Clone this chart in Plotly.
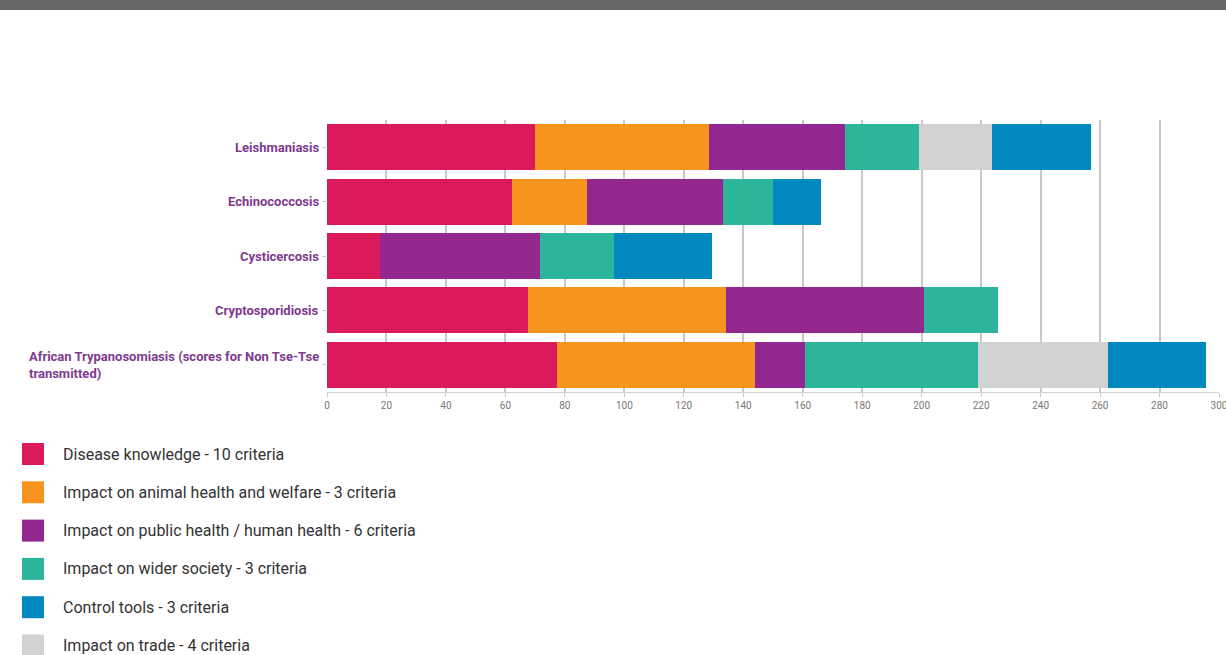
import plotly.graph_objects as go

diseases = ["Leishmaniasis", "Echinococcosis", "Cysticercosis", "Cryptosporidiosis",
            "African Trypanosomiasis (scores for Non Tse-Tse<br>transmitted)"]

series_names = [
    "Disease knowledge - 10 criteria",
    "Impact on animal health and welfare - 3 criteria",
    "Impact on public health / human health - 6 criteria",
    "Impact on wider society - 3 criteria",
    "Control tools - 3 criteria",
    "Impact on trade - 4 criteria",
]
series_colors = ["#DA1A5A", "#F7941E", "#92278F", "#2DB59B", "#0088BF", "#D2D2D2"]

disease_knowledge = [70.0, 62.2, 17.8, 67.5, 77.3]
animal_health = [58.6, 25.1, 0.0, 66.8, 66.8]
public_health = [45.5, 45.8, 53.8, 66.4, 16.5]
wider_society = [24.9, 16.8, 24.9, 24.9, 58.4]
trade = [24.8, 0.0, 0.0, 0.0, 43.7]
control_tools = [33.2, 16.2, 33.1, 0.0, 33.0]

# stacking order left to right: knowledge, animal, public, society, trade, control
stack = [
    (0, disease_knowledge),
    (1, animal_health),
    (2, public_health),
    (3, wider_society),
    (5, trade),
    (4, control_tools),
]

x_ticks = list(range(0, 301, 20))

FONT = "Roboto, Open Sans, sans-serif"
W, H = 1226, 655
ML, MR, MT, MB = 327, 7, 120, 263
PW, PH = W - ML - MR, H - MT - MB

fig = go.Figure()
for idx, vals in stack:
    fig.add_trace(go.Bar(
        y=diseases, x=vals, orientation="h", name=series_names[idx],
        marker=dict(color=series_colors[idx], line=dict(width=0)),
        showlegend=False,
    ))

# dark band along the top of the image (paper coords)
shapes = [dict(type="rect", xref="paper", yref="paper", x0=-ML / PW, x1=(W - ML) / PW,
               y0=(PH + MT - 10) / PH, y1=(PH + MT) / PH,
               fillcolor="#666666", line=dict(width=0), layer="above")]

annotations = []
for d in diseases:
    annotations.append(dict(
        x=0, xref="paper", y=d, yref="y", xanchor="right", yanchor="middle",
        xshift=-6, text=d, showarrow=False, align="left",
        font=dict(family=FONT, size=13, color="#7E3A8E", weight="bold"),
    ))

# legend drawn as squares + labels
leg_y0 = 454
leg_step = 38.3
for i, (name, col) in enumerate(zip(series_names, series_colors)):
    cy = leg_y0 + i * leg_step
    shapes.append(dict(
        type="rect", xref="paper", yref="paper",
        x0=(22 - ML) / PW, x1=(44 - ML) / PW,
        y0=(MT + PH - (cy - 11)) / PH, y1=(MT + PH - (cy + 11)) / PH,
        fillcolor=col, line=dict(width=0),
    ))
    annotations.append(dict(
        x=(61 - ML) / PW, xref="paper", y=(MT + PH - cy) / PH, yref="paper",
        xanchor="left", yanchor="middle", text=name, showarrow=False,
        font=dict(family=FONT, size=16, color="#333333"),
    ))

fig.update_layout(
    width=W, height=H,
    margin=dict(l=ML, r=MR, t=MT, b=MB, autoexpand=False),
    barmode="stack", bargap=0.155,
    plot_bgcolor="white", paper_bgcolor="white",
    xaxis=dict(range=[0, 300], tickvals=x_ticks, showgrid=True, gridcolor="#C8C8C8",
               gridwidth=1.5, zeroline=False, showline=True, linecolor="#D0D0D0",
               ticks="outside", ticklen=4, tickcolor="#C8C8C8",
               ticklabeloverflow="allow", automargin=False,
               tickfont=dict(family=FONT, size=10, color="#777777")),
    yaxis=dict(autorange="reversed", showticklabels=False, showgrid=False,
               ticks="outside", ticklen=4, tickcolor="#CCCCCC", showline=False,
               zeroline=False, automargin=False),
    shapes=shapes,
    annotations=annotations,
)

fig.write_html("out.html", config={"displayModeBar": False},
               post_script="document.body.style.margin='0';document.body.style.padding='0';document.body.style.overflow='hidden';")
